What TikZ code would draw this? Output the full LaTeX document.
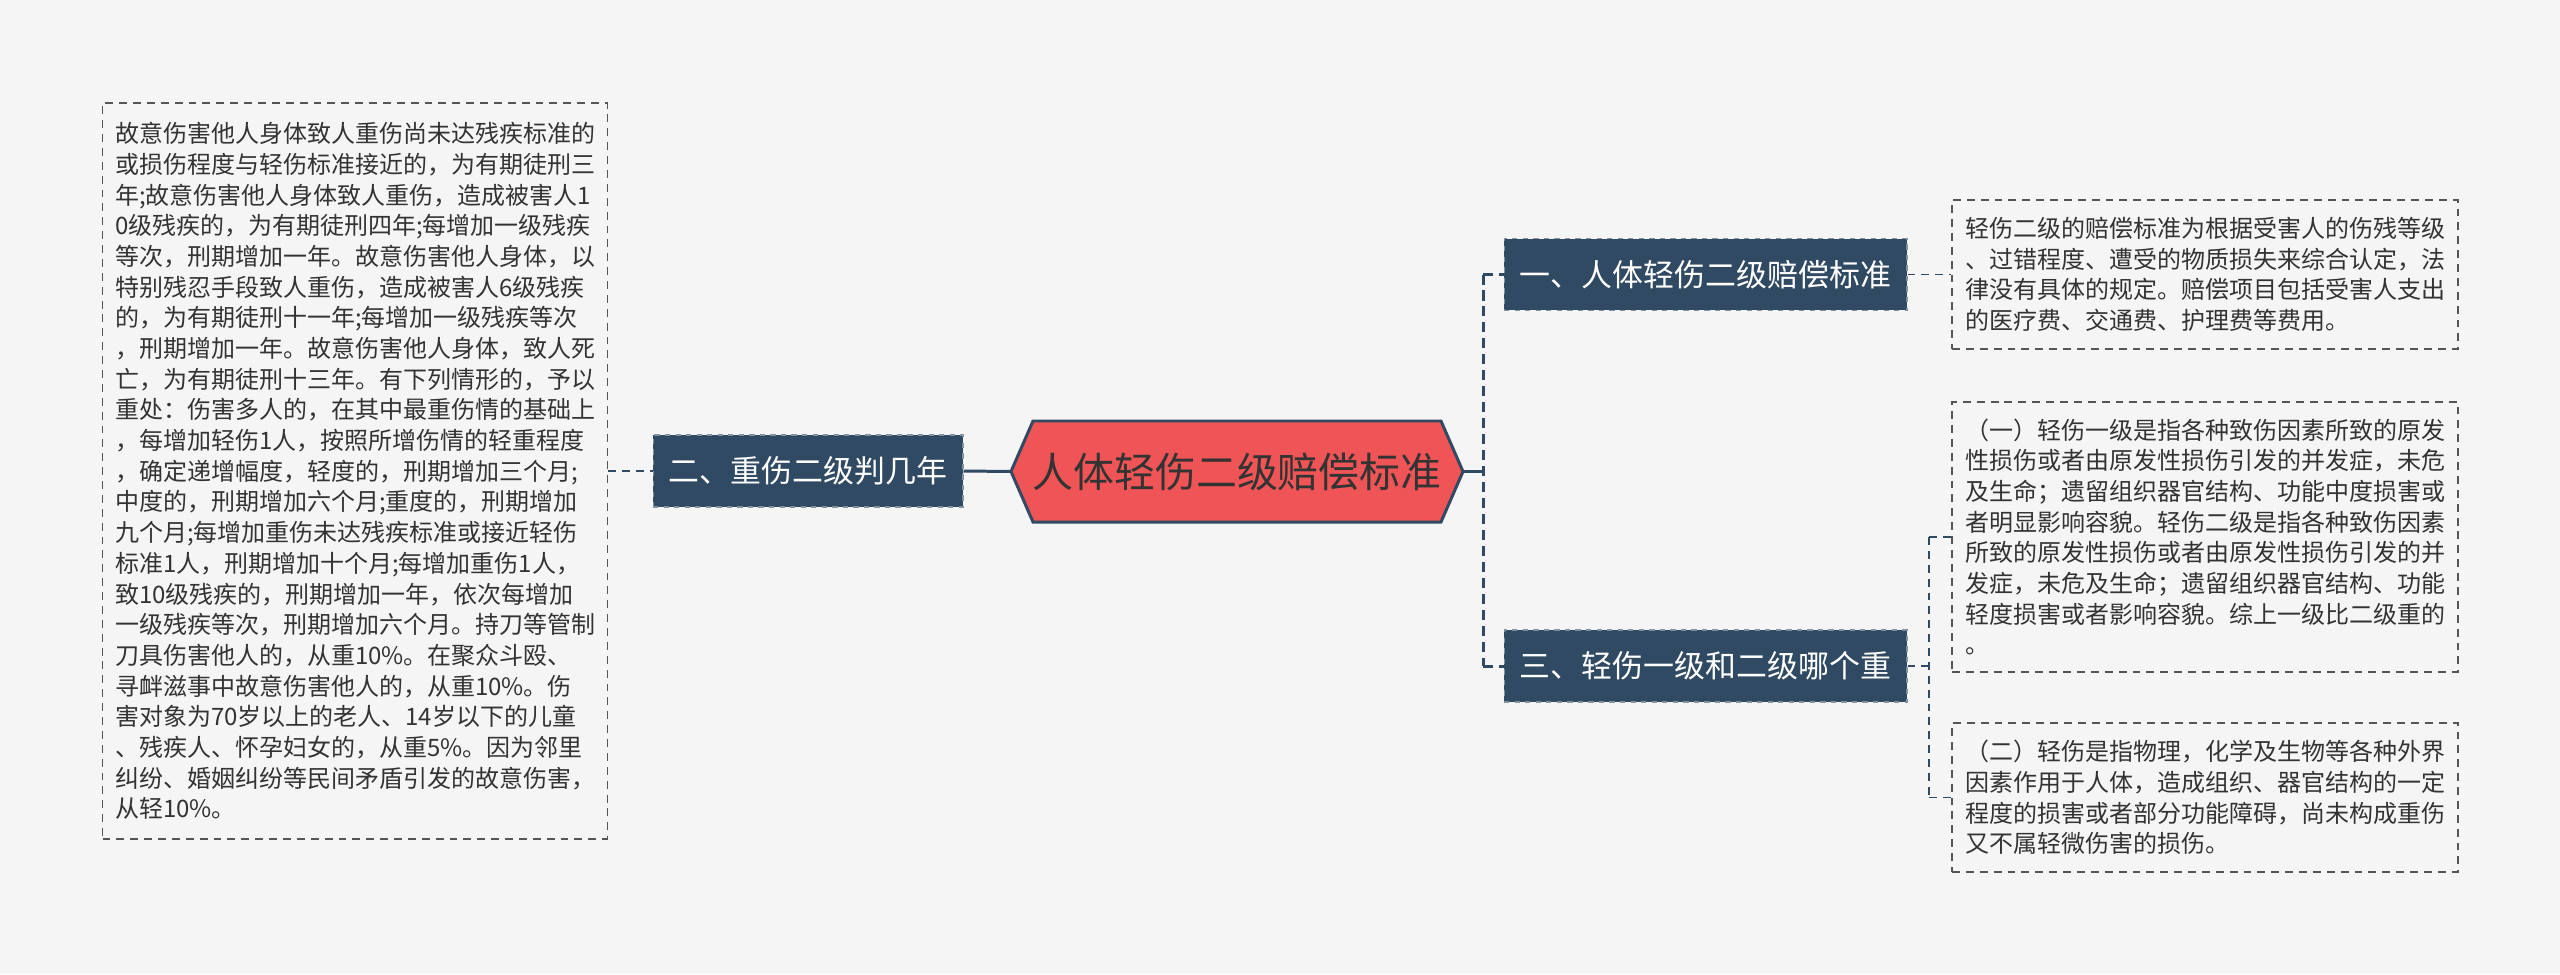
\documentclass[tikz,border=0pt]{standalone}
\usepackage{fontspec}
\setmainfont{Noto Sans CJK SC}
\definecolor{fondo}{HTML}{F5F5F5}
\definecolor{raiz}{HTML}{EF5556}
\definecolor{oscuro}{HTML}{2F4A62}
\definecolor{borde}{HTML}{555555}
\definecolor{letra}{HTML}{333333}
\tikzset{
  raizbox/.style={rectangle, minimum width=9.04cm, minimum height=2.02cm,
    inner sep=0pt, text=letra, font=\fontsize{23.3pt}{28pt}\selectfont},
  hexa/.style={fill=raiz, draw=oscuro, line width=1.7pt, line join=miter},
  tema/.style={rectangle, fill=oscuro, draw=oscuro!60!white, dashed, line width=0.6pt,
    text=white, inner sep=0pt, minimum height=1.44cm, font=\fontsize{17.6pt}{21pt}\selectfont},
  hoja/.style={rectangle, fill=fondo, draw=borde, line width=0.85pt, dash pattern=on 4.5pt off 3.4pt,
    text=letra, align=left, inner sep=0pt, minimum width=10.1cm,
    font=\fontsize{13.66pt}{17.47pt}\selectfont},
  tronco/.style={draw=oscuro, line width=1.7pt},
  rama/.style={draw=oscuro, line width=1.1pt, dash pattern=on 4.5pt off 3.4pt},
}
\begin{document}
\begin{tikzpicture}[x=0.02cm,y=-0.02cm]
  % Fondo
  \fill[fondo] (0,0) rectangle (2560,974);
  \useasboundingbox (0,0) rectangle (2560,974);

  % Nodo central (hexagono)
  \draw[hexa] (1011,471.5) -- (1033,421) -- (1441,421) -- (1463,471.5)
    -- (1441,522) -- (1033,522) -- cycle;
  \node[raizbox] (root) at (1237,471.5) {人体轻伤二级赔偿标准};

  % Temas
  \node[tema, minimum width=6.2cm] (n2) at (808,471) {二、重伤二级判几年};
  \node[tema, minimum width=8.06cm] (n1) at (1705.5,274.5) {一、人体轻伤二级赔偿标准};
  \node[tema, minimum width=8.06cm] (n3) at (1705.5,666) {三、轻伤一级和二级哪个重};

  % Hojas de texto
  \node[hoja, minimum height=14.72cm] (leftbox) at (355,471) {故意伤害他人身体致人重伤尚未达残疾标准的\\
或损伤程度与轻伤标准接近的，为有期徒刑三\\
年;故意伤害他人身体致人重伤，造成被害人1\\
0级残疾的，为有期徒刑四年;每增加一级残疾\\
等次，刑期增加一年。故意伤害他人身体，以\\
特别残忍手段致人重伤，造成被害人6级残疾\\
的，为有期徒刑十一年;每增加一级残疾等次\\
，刑期增加一年。故意伤害他人身体，致人死\\
亡，为有期徒刑十三年。有下列情形的，予以\\
重处：伤害多人的，在其中最重伤情的基础上\\
，每增加轻伤1人，按照所增伤情的轻重程度\\
，确定递增幅度，轻度的，刑期增加三个月;\\
中度的，刑期增加六个月;重度的，刑期增加\\
九个月;每增加重伤未达残疾标准或接近轻伤\\
标准1人，刑期增加十个月;每增加重伤1人，\\
致10级残疾的，刑期增加一年，依次每增加\\
一级残疾等次，刑期增加六个月。持刀等管制\\
刀具伤害他人的，从重10\%。在聚众斗殴、\\
寻衅滋事中故意伤害他人的，从重10\%。伤\\
害对象为70岁以上的老人、14岁以下的儿童\\
、残疾人、怀孕妇女的，从重5\%。因为邻里\\
纠纷、婚姻纠纷等民间矛盾引发的故意伤害，\\
从轻10\%。};
  \node[hoja, minimum width=10.12cm, minimum height=2.98cm] (box1) at (2205,274.5) {轻伤二级的赔偿标准为根据受害人的伤残等级\\
、过错程度、遭受的物质损失来综合认定，法\\
律没有具体的规定。赔偿项目包括受害人支出\\
的医疗费、交通费、护理费等费用。};
  \node[hoja, minimum width=10.12cm, minimum height=5.4cm] (box2) at (2205,537) {（一）轻伤一级是指各种致伤因素所致的原发\\
性损伤或者由原发性损伤引发的并发症，未危\\
及生命；遗留组织器官结构、功能中度损害或\\
者明显影响容貌。轻伤二级是指各种致伤因素\\
所致的原发性损伤或者由原发性损伤引发的并\\
发症，未危及生命；遗留组织器官结构、功能\\
轻度损害或者影响容貌。综上一级比二级重的\\
。};
  \node[hoja, minimum width=10.12cm, minimum height=2.98cm] (box3) at (2205,797.5) {（二）轻伤是指物理，化学及生物等各种外界\\
因素作用于人体，造成组织、器官结构的一定\\
程度的损害或者部分功能障碍，尚未构成重伤\\
又不属轻微伤害的损伤。};

  % Puntos de union
  \coordinate (tm) at (1483,471.5);
  \coordinate (t1) at (1483,274.5);
  \coordinate (t3) at (1483,666);
  \coordinate (jm) at (1929,666);
  \coordinate (j2) at (1929,537);
  \coordinate (j3) at (1929,797.5);

  % Aristas
  \draw[tronco] (n2.east) -- (root.west);
  \draw[tronco] (root.east) -- (tm);
  \draw[tronco, dash pattern=on 5.7pt off 3.4pt] (t1) -- (t3);
  \foreach \t/\n in {t1/n1, t3/n3}
    \draw[tronco, dash pattern=on 5.7pt off 3.4pt] (\t) -- (\n.west);
  \draw[rama] (leftbox.east) -- (n2.west);
  \draw[rama] (n1.east) -- (box1.west);
  \draw[rama] (n3.east) -- (jm);
  \draw[rama] (j2) -- (j3);
  \foreach \j/\b in {j2/box2, j3/box3}
    \draw[rama] (\j) -- (\b.west);
\end{tikzpicture}
\end{document}
